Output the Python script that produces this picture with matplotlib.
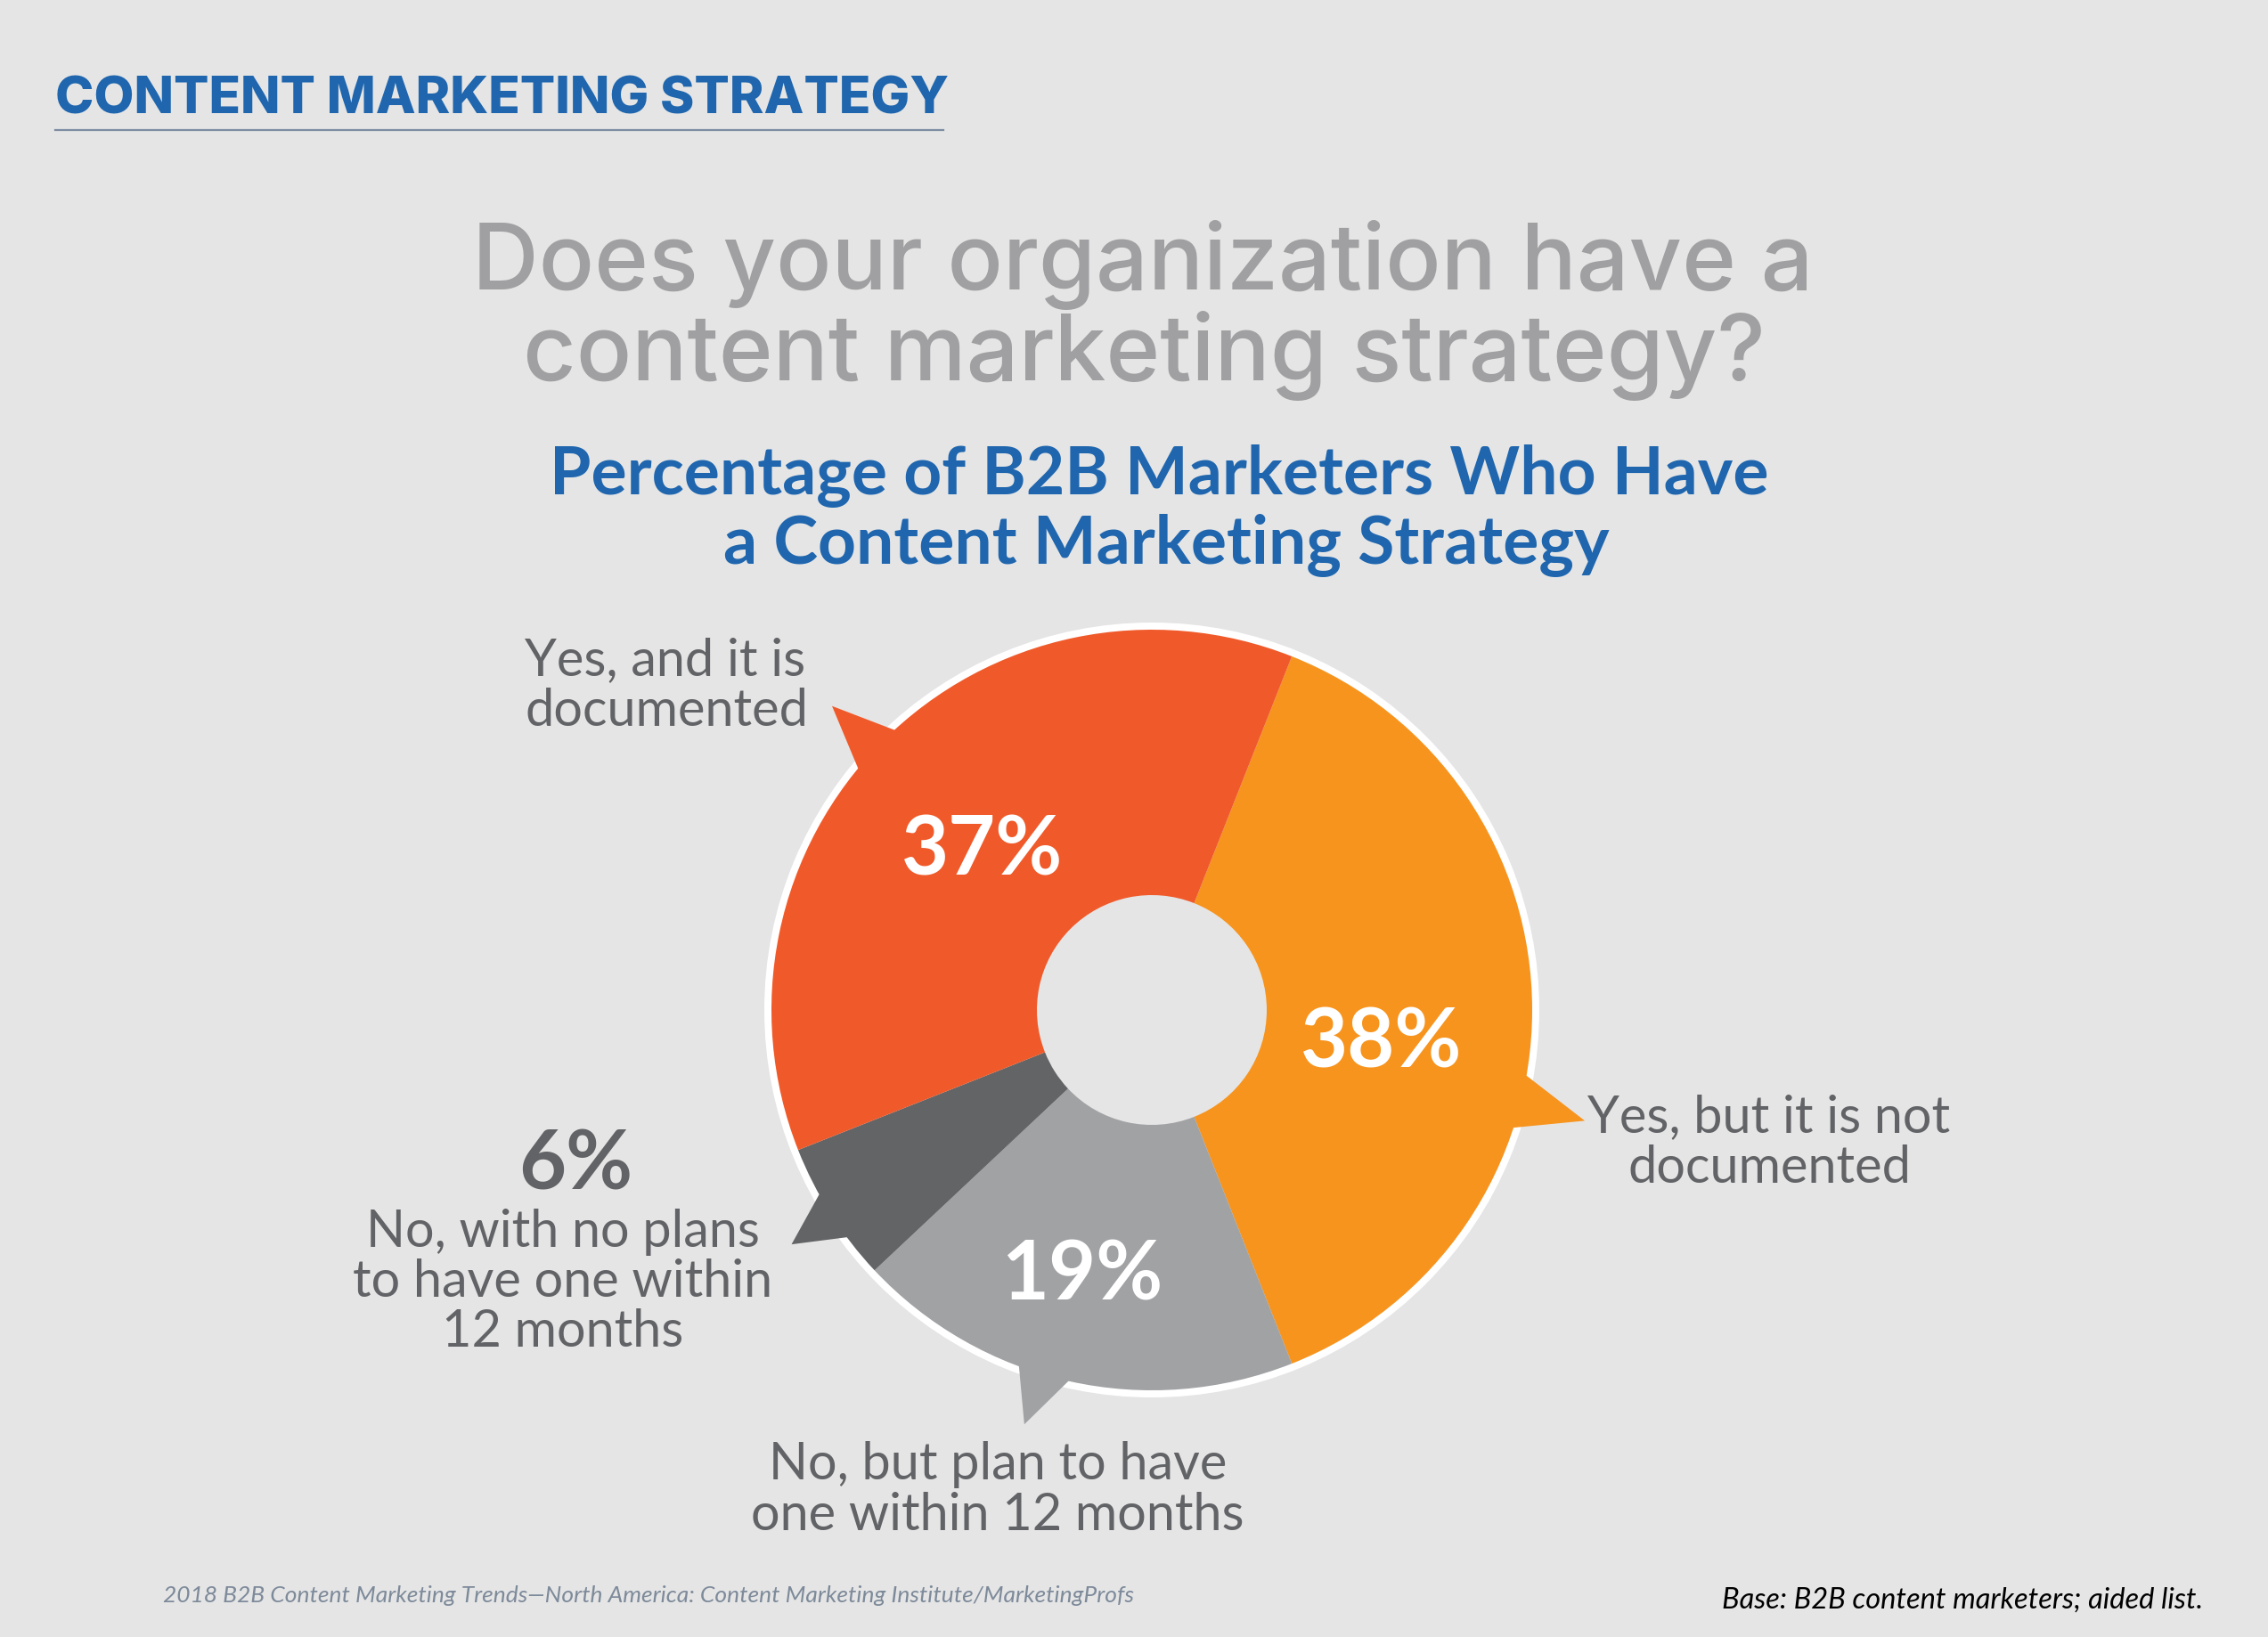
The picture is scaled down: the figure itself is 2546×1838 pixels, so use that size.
import matplotlib
matplotlib.use("Agg")
import matplotlib.pyplot as plt
from matplotlib.patches import Wedge, Polygon
import numpy as np

# data
categories = ["Yes, but it is not\ndocumented",
              "No, but plan to have\none within 12 months",
              "No, with no plans\nto have one within\n12 months",
              "Yes, and it is\ndocumented"]
shares = [38, 19, 6, 37]
colors = ["#F7941E", "#A1A2A4", "#636466", "#F05A2A"]

BG = "#E5E5E5"
BLUE = "#1F66AE"
GRAY_TXT = "#626366"

W, H = 2546, 1838
fig = plt.figure(figsize=(W / 100, H / 100), dpi=100, facecolor=BG)
ax = fig.add_axes([0, 0, 1, 1])
ax.set_xlim(0, W)
ax.set_ylim(0, H)
ax.set_aspect("equal")
ax.axis("off")

def Y(y):
    # convert top-down pixel rows to axes coords
    return H - y

cx, cy, R = 1293, Y(1134), 427
hole = 129

# white outer ring
ax.add_patch(Wedge((cx, cy), R + 8, 0, 360, width=10, facecolor="white",
                   edgecolor="none", zorder=1))

wedges, _ = ax.pie(shares, colors=colors, startangle=68.4, counterclock=False,
                   center=(cx, cy), radius=R, frame=True,
                   wedgeprops=dict(width=R - hole, edgecolor="none"))
for w in wedges:
    w.set_zorder(2)
ax.set_xlim(0, W)
ax.set_ylim(0, H)
ax.axis("off")

# speech bubble tails: offset of base from wedge middle, tip offset, tip radius
tail_offset = [-13.9, -3.8, 0.4, 1.6]
tip_offset = [-0.45, -0.7, 0.25, -0.15]
tip_r = [1.175, 1.14, 1.13, 1.16]
half = 4.9
for w, col, off, toff, tr in zip(wedges, colors, tail_offset, tip_offset, tip_r):
    mid = (w.theta1 + w.theta2) / 2
    a0 = np.radians(mid + off - half)
    a1 = np.radians(mid + off + half)
    at = np.radians(mid + off + toff)
    pts = [(cx + 0.97 * R * np.cos(a0), cy + 0.97 * R * np.sin(a0)),
           (cx + tr * R * np.cos(at), cy + tr * R * np.sin(at)),
           (cx + 0.97 * R * np.cos(a1), cy + 0.97 * R * np.sin(a1))]
    ax.add_patch(Polygon(pts, closed=True, facecolor=col, edgecolor="none",
                         zorder=3))

# percent labels inside wedges
pct_dist = [0.61, 0.725, None, 0.61]
pct_shift = [-8.5, -2, 0, 2]
for w, v, d, s in zip(wedges, shares, pct_dist, pct_shift):
    if d is None:
        continue
    mid = np.radians((w.theta1 + w.theta2) / 2 + s)
    ax.text(cx + d * R * np.cos(mid), cy + d * R * np.sin(mid), f"{v}%",
            ha="center", va="center", color="white", fontsize=66,
            family="Lato", weight="bold", zorder=5)

# header
ax.text(62, Y(127), "CONTENT MARKETING STRATEGY", ha="left", va="baseline",
        color=BLUE, fontsize=42, family="Inter", weight="heavy")
ax.plot([62, 1059], [Y(146), Y(146)], color="#7C8CA2", lw=1.6)

# question
ax.text(1283, Y(325), "Does your organization have a", ha="center",
        va="baseline", color="#A0A0A2", fontsize=74.5, family="Inter",
        weight="medium")
ax.text(1284, Y(427), "content marketing strategy?", ha="center",
        va="baseline", color="#A0A0A2", fontsize=74.5, family="Inter",
        weight="medium")

# subtitle
ax.text(1301, Y(555), "Percentage of B2B Marketers Who Have", ha="center",
        va="baseline", color=BLUE, fontsize=54, family="Lato", weight="bold")
ax.text(1309, Y(633), "a Content Marketing Strategy", ha="center",
        va="baseline", color=BLUE, fontsize=54, family="Lato", weight="bold")

# category labels
def lines(txt, x, y0, ha, gap=57):
    for i, ln in enumerate(txt.split("\n")):
        ax.text(x, Y(y0 + i * gap), ln, ha=ha, va="baseline", color=GRAY_TXT,
                fontsize=41.5, family="Lato", zorder=5)

lines(categories[3], 589, 758, "left")
lines(categories[0], 1986, 1271, "center")
lines(categories[2], 632, 1400, "center", gap=56)
lines(categories[1], 1120, 1661, "center")
ax.text(646, Y(1336), f"{shares[2]}%", ha="center", va="baseline",
        color=GRAY_TXT, fontsize=66, family="Lato", weight="bold")

# footer
ax.text(183, Y(1799), "2018 B2B Content Marketing Trends\u2014North America: "
        "Content Marketing Institute/MarketingProfs", ha="left",
        va="baseline", color="#7D8A9A", fontsize=19, family="Lato",
        style="italic")
ax.text(2473, Y(1806), "Base: B2B content marketers; aided list.", ha="right",
        va="baseline", color="black", fontsize=23.5, family="Lato",
        style="italic")

fig.savefig("out.png", dpi=100, facecolor=BG)
